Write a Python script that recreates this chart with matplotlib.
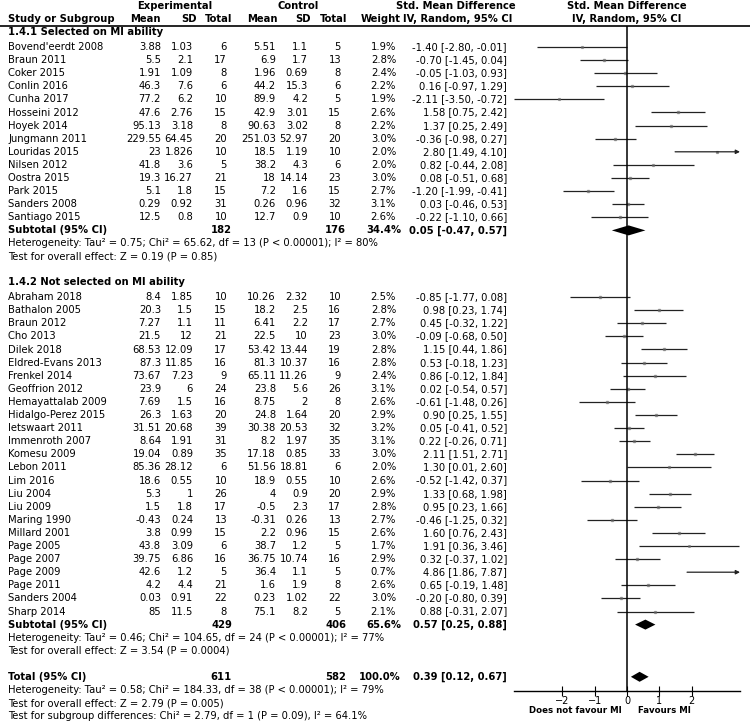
import matplotlib
matplotlib.use("Agg")
import matplotlib.pyplot as plt

# ---------------- data ----------------
g1_title = "1.4.1 Selected on MI ability"
g1_names = ["Bovend'eerdt 2008", "Braun 2011", "Coker 2015", "Conlin 2016", "Cunha 2017",
            "Hosseini 2012", "Hoyek 2014", "Jungmann 2011", "Louridas 2015", "Nilsen 2012",
            "Oostra 2015", "Park 2015", "Sanders 2008", "Santiago 2015"]
g1_exp_mean = [3.88, 5.5, 1.91, 46.3, 77.2, 47.6, 95.13, 229.55, 23, 41.8, 19.3, 5.1, 0.29, 12.5]
g1_exp_sd = [1.03, 2.1, 1.09, 7.6, 6.2, 2.76, 3.18, 64.45, 1.826, 3.6, 16.27, 1.8, 0.92, 0.8]
g1_exp_n = [6, 17, 8, 6, 10, 15, 8, 20, 10, 5, 21, 15, 31, 10]
g1_ctl_mean = [5.51, 6.9, 1.96, 44.2, 89.9, 42.9, 90.63, 251.03, 18.5, 38.2, 18, 7.2, 0.26, 12.7]
g1_ctl_sd = [1.1, 1.7, 0.69, 15.3, 4.2, 3.01, 3.02, 52.97, 1.19, 4.3, 14.14, 1.6, 0.96, 0.9]
g1_ctl_n = [5, 13, 8, 6, 5, 15, 8, 20, 10, 6, 23, 15, 32, 10]
g1_weight = [1.9, 2.8, 2.4, 2.2, 1.9, 2.6, 2.2, 3.0, 2.0, 2.0, 3.0, 2.7, 3.1, 2.6]
g1_smd = [-1.40, -0.70, -0.05, 0.16, -2.11, 1.58, 1.37, -0.36, 2.80, 0.82, 0.08, -1.20, 0.03, -0.22]
g1_lo = [-2.80, -1.45, -1.03, -0.97, -3.50, 0.75, 0.25, -0.98, 1.49, -0.44, -0.51, -1.99, -0.46, -1.10]
g1_hi = [-0.01, 0.04, 0.93, 1.29, -0.72, 2.42, 2.49, 0.27, 4.10, 2.08, 0.68, -0.41, 0.53, 0.66]
g1_sub = dict(exp_n=182, ctl_n=176, weight=34.4, smd=0.05, lo=-0.47, hi=0.57)
g1_het = "Heterogeneity: Tau² = 0.75; Chi² = 65.62, df = 13 (P < 0.00001); I² = 80%"
g1_test = "Test for overall effect: Z = 0.19 (P = 0.85)"

g2_title = "1.4.2 Not selected on MI ability"
g2_names = ["Abraham 2018", "Bathalon 2005", "Braun 2012", "Cho 2013", "Dilek 2018",
            "Eldred-Evans 2013", "Frenkel 2014", "Geoffrion 2012", "Hemayattalab 2009",
            "Hidalgo-Perez 2015", "Ietswaart 2011", "Immenroth 2007", "Komesu 2009", "Lebon 2011",
            "Lim 2016", "Liu 2004", "Liu 2009", "Maring 1990", "Millard 2001", "Page 2005",
            "Page 2007", "Page 2009", "Page 2011", "Sanders 2004", "Sharp 2014"]
g2_exp_mean = [8.4, 20.3, 7.27, 21.5, 68.53, 87.3, 73.67, 23.9, 7.69, 26.3, 31.51, 8.64, 19.04,
               85.36, 18.6, 5.3, 1.5, -0.43, 3.8, 43.8, 39.75, 42.6, 4.2, 0.03, 85]
g2_exp_sd = [1.85, 1.5, 1.1, 12, 12.09, 11.85, 7.23, 6, 1.5, 1.63, 20.68, 1.91, 0.89,
             28.12, 0.55, 1, 1.8, 0.24, 0.99, 3.09, 6.86, 1.2, 4.4, 0.91, 11.5]
g2_exp_n = [10, 15, 11, 21, 17, 16, 9, 24, 16, 20, 39, 31, 35, 6, 10, 26, 17, 13, 15, 6, 16, 5, 21, 22, 8]
g2_ctl_mean = [10.26, 18.2, 6.41, 22.5, 53.42, 81.3, 65.11, 23.8, 8.75, 24.8, 30.38, 8.2, 17.18,
               51.56, 18.9, 4, -0.5, -0.31, 2.2, 38.7, 36.75, 36.4, 1.6, 0.23, 75.1]
g2_ctl_sd = [2.32, 2.5, 2.2, 10, 13.44, 10.37, 11.26, 5.6, 2, 1.64, 20.53, 1.97, 0.85,
             18.81, 0.55, 0.9, 2.3, 0.26, 0.96, 1.2, 10.74, 1.1, 1.9, 1.02, 8.2]
g2_ctl_n = [10, 16, 17, 23, 19, 16, 9, 26, 8, 20, 32, 35, 33, 6, 10, 20, 17, 13, 15, 5, 16, 5, 8, 22, 5]
g2_weight = [2.5, 2.8, 2.7, 3.0, 2.8, 2.8, 2.4, 3.1, 2.6, 2.9, 3.2, 3.1, 3.0, 2.0, 2.6, 2.9, 2.8,
             2.7, 2.6, 1.7, 2.9, 0.7, 2.6, 3.0, 2.1]
g2_smd = [-0.85, 0.98, 0.45, -0.09, 1.15, 0.53, 0.86, 0.02, -0.61, 0.90, 0.05, 0.22, 2.11, 1.30,
          -0.52, 1.33, 0.95, -0.46, 1.60, 1.91, 0.32, 4.86, 0.65, -0.20, 0.88]
g2_lo = [-1.77, 0.23, -0.32, -0.68, 0.44, -0.18, -0.12, -0.54, -1.48, 0.25, -0.41, -0.26, 1.51,
         0.01, -1.42, 0.68, 0.23, -1.25, 0.76, 0.36, -0.37, 1.86, -0.19, -0.80, -0.31]
g2_hi = [0.08, 1.74, 1.22, 0.50, 1.86, 1.23, 1.84, 0.57, 0.26, 1.55, 0.52, 0.71, 2.71, 2.60,
         0.37, 1.98, 1.66, 0.32, 2.43, 3.46, 1.02, 7.87, 1.48, 0.39, 2.07]
g2_sub = dict(exp_n=429, ctl_n=406, weight=65.6, smd=0.57, lo=0.25, hi=0.88)
g2_het = "Heterogeneity: Tau² = 0.46; Chi² = 104.65, df = 24 (P < 0.00001); I² = 77%"
g2_test = "Test for overall effect: Z = 3.54 (P = 0.0004)"

total = dict(exp_n=611, ctl_n=582, weight=100.0, smd=0.39, lo=0.12, hi=0.67)
total_het = "Heterogeneity: Tau² = 0.58; Chi² = 184.33, df = 38 (P < 0.00001); I² = 79%"
total_test = "Test for overall effect: Z = 2.79 (P = 0.005)"
subgroup_test = "Test for subgroup differences: Chi² = 2.79, df = 1 (P = 0.09), I² = 64.1%"

x_ticks = [-2, -1, 0, 1, 2]
x_range = (-3.5, 3.5)
label_left = "Does not favour MI"
label_right = "Favours MI"

# ---------------- layout ----------------
W, H = 750, 726
FS = 7.2
fig = plt.figure(figsize=(W / 100, H / 100), dpi=100)
fig.patch.set_facecolor("white")
tx = fig.add_axes([0, 0, 1, 1])
tx.set_xlim(0, W)
tx.set_ylim(H, 0)
tx.axis("off")

PLOT_L, PLOT_R, PLOT_T, PLOT_B = 514, 740, 26, 691
fx = fig.add_axes([PLOT_L / W, (H - PLOT_B) / H, (PLOT_R - PLOT_L) / W, (PLOT_B - PLOT_T) / H])
fx.set_facecolor("none")
fx.set_xlim(*x_range)
fx.set_ylim(PLOT_B, PLOT_T)
for s in ["top", "left", "right"]:
    fx.spines[s].set_visible(False)
fx.spines["bottom"].set_linewidth(1.0)
fx.set_yticks([])
fx.set_xticks(x_ticks)
fx.tick_params(axis="x", direction="inout", length=7, width=0.8, pad=0, labelsize=7)

COL = dict(label=8, em=161, esd=193, en=227, cm=276, csd=308, cn=341, w=396, ci=507)


def t(x, y, s, ha="right", bold=False, **kw):
    tx.text(x, y, s, ha=ha, va="center", fontsize=FS,
            fontweight="bold" if bold else "normal", **kw)


def ci_text(m, lo, hi):
    return f"{m:.2f} [{lo:.2f}, {hi:.2f}]"


def num(v):
    return f"{v:g}"

# headers
t(175, 6, "Experimental", ha="center", bold=True)
t(298, 6, "Control", ha="center", bold=True)
t(456, 6, "Std. Mean Difference", ha="center", bold=True)
t(627, 6, "Std. Mean Difference", ha="center", bold=True)
t(8, 19, "Study or Subgroup", ha="left", bold=True)
for x, s in [(161, "Mean"), (197, "SD"), (232, "Total"), (278, "Mean"), (311, "SD"),
             (347, "Total"), (401, "Weight")]:
    t(x, 19, s, bold=True)
t(458, 19, "IV, Random, 95% CI", ha="center", bold=True)
t(627, 19, "IV, Random, 95% CI", ha="center", bold=True)
tx.plot([0, W], [26, 26], color="black", lw=1.2, solid_capstyle="butt")

STEP = 13.1


def draw_group(y_title, title, names, em, esd, en, cm, csd, cn, w, smd, lo, hi, sub, het, test):
    t(COL["label"], y_title, title, ha="left", bold=True)
    y = y_title + 15
    for i in range(len(names)):
        t(COL["label"], y, names[i], ha="left")
        t(COL["em"], y, num(em[i]))
        t(COL["esd"], y, num(esd[i]))
        t(COL["en"], y, str(en[i]))
        t(COL["cm"], y, num(cm[i]))
        t(COL["csd"], y, num(csd[i]))
        t(COL["cn"], y, str(cn[i]))
        t(COL["w"], y, f"{w[i]:.1f}%")
        t(COL["ci"], y, ci_text(smd[i], lo[i], hi[i]))
        a, b = max(lo[i], x_range[0]), min(hi[i], x_range[1])
        if hi[i] > x_range[1]:
            fx.annotate("", xy=(x_range[1], y), xytext=(a, y),
                        arrowprops=dict(arrowstyle="-|>", color="#222222", lw=0.9,
                                        mutation_scale=6, shrinkA=0, shrinkB=0))
        else:
            fx.plot([a, b], [y, y], color="#222222", lw=0.9, solid_capstyle="butt")
        fx.plot([smd[i]], [y], marker="s", ms=0.4 + 0.45 * w[i], color="#666666",
                mec="#666666", alpha=0.6, lw=0)
        y += STEP
    draw_summary(y, "Subtotal (95% CI)", sub)
    t(COL["label"], y + STEP, het, ha="left")
    t(COL["label"], y + 2 * STEP, test, ha="left")
    return y + 2 * STEP


def draw_summary(y, label, d):
    t(COL["label"], y, label, ha="left", bold=True)
    t(COL["en"] + 5, y, str(d["exp_n"]), bold=True)
    t(COL["cn"] + 5, y, str(d["ctl_n"]), bold=True)
    t(COL["w"] + 5, y, f"{d['weight']:.1f}%", bold=True)
    t(COL["ci"], y, ci_text(d["smd"], d["lo"], d["hi"]), bold=True)
    h = 5
    fx.fill([d["lo"], d["smd"], d["hi"], d["smd"]], [y, y - h, y, y + h],
            color="black", lw=0)


y_end1 = draw_group(32, g1_title, g1_names, g1_exp_mean, g1_exp_sd, g1_exp_n, g1_ctl_mean,
                    g1_ctl_sd, g1_ctl_n, g1_weight, g1_smd, g1_lo, g1_hi, g1_sub, g1_het, g1_test)
y_end2 = draw_group(y_end1 + 25.5, g2_title, g2_names, g2_exp_mean, g2_exp_sd, g2_exp_n,
                    g2_ctl_mean, g2_ctl_sd, g2_ctl_n, g2_weight, g2_smd, g2_lo, g2_hi, g2_sub,
                    g2_het, g2_test)
yt = y_end2 + 26
draw_summary(yt, "Total (95% CI)", total)
t(COL["label"], yt + STEP, total_het, ha="left")
t(COL["label"], yt + 2 * STEP, total_test, ha="left")
t(COL["label"], yt + 3 * STEP, subgroup_test, ha="left")

fx.axvline(0, color="black", lw=1.1)
xt = fx.get_xaxis_transform()
fx.text(-0.15, -0.022, label_left, transform=xt, ha="right", va="top",
        fontsize=6.2, fontweight="bold")
fx.text(0.35, -0.022, label_right, transform=xt, ha="left", va="top",
        fontsize=6.2, fontweight="bold")

fig.savefig("out.png", dpi=100, facecolor="white")
